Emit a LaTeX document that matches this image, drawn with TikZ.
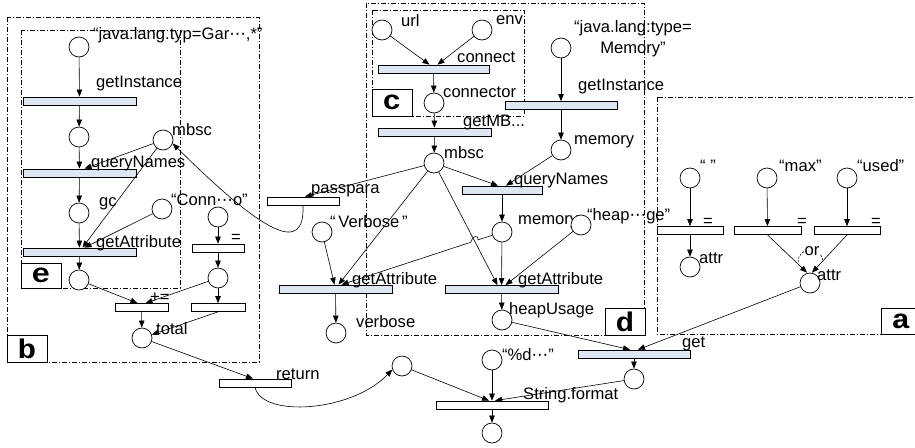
\documentclass[tikz,border=0pt]{standalone}
\usepackage{graphicx}
\usepackage{fontspec}
\setmainfont{Liberation Sans}
\newfontfamily\symfont{DejaVu Sans}
\newfontfamily\monob{Liberation Mono}
\usetikzlibrary{arrows.meta,calc}
\definecolor{tblue}{RGB}{221,230,242}
\newcommand{\ellip}{{\symfont ⋯}}
\newcommand{\tagletter}[1]{\scalebox{1.15}[1]{#1}}

\tikzset{
  plc/.style={draw, circle, fill=white, minimum size=20pt, inner sep=0pt, line width=0.7pt},
  trb/.style={draw, fill=tblue, minimum height=8pt, inner sep=0pt, line width=0.7pt},
  trw/.style={trb, fill=white},
  txt/.style={anchor=west, inner sep=0pt},
  tagbox/.style={draw, fill=white, minimum width=40pt, minimum height=27pt, inner sep=0pt, line width=0.7pt, font=\monob\bfseries\fontsize{27}{27}\selectfont},
  grp/.style={line width=0.6pt, dash pattern=on 5pt off 2pt on 1pt off 2pt},
  arr/.style={-{Triangle[length=7pt,width=5.5pt]}, line width=0.6pt},
}

\begin{document}
\begin{tikzpicture}[x=1pt, y=-1pt, font=\fontsize{16.6}{19}\selectfont]
\useasboundingbox (0,0) rectangle (915,447);

% groups
\draw[grp] (7,17) rectangle (259,362);
\draw[grp] (21,30) rectangle (180,288);
\draw[grp] (366,3) rectangle (644,335);
\draw[grp] (372,10) rectangle (524,116);
\draw[grp] (657,97) rectangle (918,334);
\node[tagbox] (tagb) at (27,348.5) {\tagletter{b}};
\node[tagbox, minimum height=25pt] (tage) at (41,275.5) {\tagletter{e}};
\node[tagbox] (tagc) at (392,102.5) {\tagletter{c}};
\node[tagbox] (tagd) at (625,321.5) {\tagletter{d}};
\node[tagbox, minimum height=26pt] (taga) at (901,321) {\tagletter{a}};

% box b / e
\node[plc] (pgar) at (79,47) {};
\node[txt] (lgar) at (93,35) {“java.lang.typ=Gar\ellip,*”};
\node[trb, minimum width=113pt] (tgi1) at (79.5,101) {};
\node[txt] (lgi1) at (96,84) {getInstance};
\node[plc] (p1) at (79,137) {};
\node[plc] (pmb1) at (163,140) {};
\node[txt] (lmb1) at (172,130) {mbsc};
\node[trb, minimum width=113pt] (tqn1) at (79.5,173) {};
\node[txt] (lqn1) at (91,164) {queryNames};
\node[plc] (pgc) at (79,213) {};
\node[txt] (lgc) at (99,204) {gc};
\node[plc] (peq) at (218,217) {};
\node[plc] (pconn) at (162,209) {};
\node[txt] (lconn) at (171,200) {“Conn\ellip o”};
\node[trb, minimum width=113pt] (tga1) at (79.5,252) {};
\node[txt] (lga1) at (96,243) {getAttribute};
\node[plc] (p2) at (79,280) {};
\node[trw, minimum width=52pt] (teq) at (218,248) {};
\node[txt] (leq) at (231,238) {=};
\node[plc] (p3) at (218,278) {};
\node[trw, minimum width=53pt] (tpe) at (141.5,307.5) {};
\node[txt] (lpe) at (150,298) {+=};
\node[trw, minimum width=54pt] (tr2) at (218,307.5) {};
\node[plc] (ptot) at (142,338) {};
\node[txt] (ltot) at (156,329) {total};

% bottom
\node[trw, minimum width=72pt] (tret) at (255,383) {};
\node[txt] (lret) at (276,374) {return};
\node[plc] (pret) at (402,366) {};
\node[plc] (ppd) at (492,360) {};
\node[txt] (lpd) at (502,355) {“\%d\ellip”};
\node[trw, minimum width=112pt] (tsf) at (492,405) {};
\node[txt] (lsf) at (523,395) {String.format};
\node[plc] (pout) at (492,433) {};
\node[trb, minimum width=112pt] (tget) at (634,354) {};
\node[txt] (lget) at (682,344) {get};
\node[plc] (pget) at (634,379) {};

% box d / c
\node[plc] (purl) at (382,30) {};
\node[txt] (lurl) at (401,21) {url};
\node[plc] (penv) at (482,30) {};
\node[txt] (lenv) at (496,20) {env};
\node[trb, minimum width=111pt] (tcon) at (433.5,69) {};
\node[txt] (lcon) at (457,57) {connect};
\node[plc] (pcon) at (434,103) {};
\node[txt] (lpcon) at (443,92) {connector};
\node[trb, minimum width=113pt] (tmb) at (434.5,132) {};
\node[txt] (ltmb) at (463,123) {getMB...};
\node[plc] (pmb2) at (434,163) {};
\node[txt] (lmb2) at (444,153) {mbsc};
\node[plc] (pjm) at (561,48) {};
\node[align=center, inner sep=0pt, font=\fontsize{16.6}{21}\selectfont] (ljm) at (633,39) {“java.lang:type=\\Memory”};
\node[trb, minimum width=112pt] (tgi2) at (561,105.5) {};
\node[txt] (lgi2) at (578,87) {getInstance};
\node[plc] (pmem1) at (561,150) {};
\node[txt] (lmem1) at (574,142) {memory};
\node[trb, minimum width=80pt] (tqn2) at (502,190) {};
\node[txt] (lqn2) at (514,181) {queryNames};
\node[plc] (pmem2) at (502,232) {};
\node[txt] (lmem2) at (518,222) {memory};
\node[plc] (pheap) at (581,225) {};
\node[txt] (lheap) at (587,216) {“heap\ellip ge”};
\node[trb, minimum width=113pt] (tga3) at (501.5,289.5) {};
\node[txt] (lga3) at (518,280) {getAttribute};
\node[plc] (pheapu) at (502,320) {};
\node[txt] (lheapu) at (509,310) {heapUsage};
\node[trw, minimum width=72pt] (tpass) at (303,201) {};
\node[txt] (lpass) at (311,191) {passpara};
\node[plc] (pverb) at (322,232) {};
\node[txt] (lverb) at (330,222) {“\,Verbose\,”};
\node[trb, minimum width=113pt] (tga2) at (335.5,289) {};
\node[txt] (lga2) at (352,280) {getAttribute};
\node[plc] (pverbo) at (336,333) {};
\node[txt] (lverbo) at (356,322) {verbose};

% box a
\node[plc] (pempty) at (690,178) {};
\node[txt] (lempty) at (700,166) {“ ”};
\node[plc] (pmax) at (767,178) {};
\node[txt] (lmax) at (779,166) {“max”};
\node[plc] (pused) at (847,178) {};
\node[txt] (lused) at (857,166) {“used”};
\node[trw, minimum width=66pt] (teq1) at (690,230.5) {};
\node[txt] (leq1) at (703,222) {=};
\node[trw, minimum width=67pt] (teq2) at (767.5,230.5) {};
\node[txt] (leq2) at (797,222) {=};
\node[trw, minimum width=66pt] (teq3) at (847,230.5) {};
\node[txt] (leq3) at (871,222) {=};
\node[plc] (pattr1) at (690,267) {};
\node[txt] (lattr1) at (699,258) {attr};
\node[plc] (pattr2) at (810,283) {};
\node[txt] (lattr2) at (817,275) {attr};

% arcs b / e
\draw[arr] (pgar) -- (tgi1);
\draw[arr] (tgi1) -- (p1);
\draw[arr] (p1) -- (tqn1);
\draw[arr] (pmb1) -- ([xshift=5pt]tqn1.north);
\draw[arr] (tqn1) -- (pgc);
\draw[arr] (pgc) -- (tga1);
\draw[arr] (pmb1) -- ([xshift=3pt]tga1.north);
\draw[arr] (pconn) -- ([xshift=5pt]tga1.north);
\draw[arr] (tga1) -- (p2);
\draw[arr] (peq) -- (teq);
\draw[arr] (teq) -- (p3);
\draw[arr] (p3) -- (tr2);
\draw[arr] (p2) -- ([xshift=-4pt]tpe.north);
\draw[arr] (p3) -- ([xshift=4pt]tpe.north);
\draw[arr] (tpe) -- (ptot);
\draw[arr] (tr2.south) -- (ptot);
\draw[arr] (ptot) -- ([xshift=-2pt]tret.north);
\draw[arr] (tret.south) .. controls (262,418) and (352,412) .. (pret.200);
\draw[arr] (pret) -- ([xshift=-3pt]tsf.north);
\draw[arr] (ppd) -- (tsf);
\draw[arr] (pget) -- ([xshift=3pt]tsf.north);
\draw[arr] (tsf) -- (pout);
\draw[arr] (pheapu) -- ([xshift=-4pt]tget.north);
\draw[arr] (pattr2) -- ([xshift=4pt]tget.north);
\draw[arr] (tget) -- (pget);

% arcs d / c
\draw[arr] (purl) -- ([xshift=-4pt]tcon.north);
\draw[arr] (penv) -- ([xshift=4pt]tcon.north);
\draw[arr] (tcon) -- (pcon);
\draw[arr] (pcon) -- (tmb);
\draw[arr] (tmb) -- (pmb2);
\draw[arr] (pjm) -- (tgi2);
\draw[arr] (tgi2) -- (pmem1);
\draw[arr] (pmb2) -- ([xshift=-4pt]tqn2.north);
\draw[arr] (pmem1) -- ([xshift=4pt]tqn2.north);
\draw[arr] (tqn2) -- (pmem2);
\draw[arr] (pmem2) -- (tga3);
\draw[arr] (pmb2) -- ([xshift=-4pt]tga3.north);
\draw[arr] (pheap) -- ([xshift=4pt]tga3.north);
\draw[arr] (tga3) -- (pheapu);
\draw[arr] (pmb2) -- ([xshift=2pt]tpass.north);
\draw[arr] (tpass.south) .. controls (305,255) and (265,235) .. (pmb1.-20);
\draw[arr] (pverb) -- ([xshift=-1pt]tga2.north);
\draw[arr] (pmb2) -- ([xshift=3pt]tga2.north);
\coordinate (hopend) at ([xshift=6pt]tga2.north);
\draw[arr] (pmem2) -- ($(pmem2)!0.15!(hopend)$) .. controls +(1,-6) and +(1,-6) .. ($(pmem2)!0.195!(hopend)$) -- (hopend);
\draw[arr] (tga2) -- (pverbo);

% arcs a
\draw[arr] (pempty) -- (teq1);
\draw[arr] (teq1) -- (pattr1);
\draw[arr] (pmax) -- (teq2);
\draw[arr] (pused) -- (teq3);
\draw[arr] (teq2.south) -- ([xshift=-3pt]pattr2.north);
\draw[arr] (teq3.south) -- ([xshift=2pt]pattr2.north);
\draw[line width=0.6pt, dash pattern=on 2pt off 1.5pt] (798,262) arc[start angle=180, end angle=360, radius=12.5];
\node[fill=white, inner sep=0.5pt] (lor) at (812,251) {or};
\end{tikzpicture}
\end{document}
